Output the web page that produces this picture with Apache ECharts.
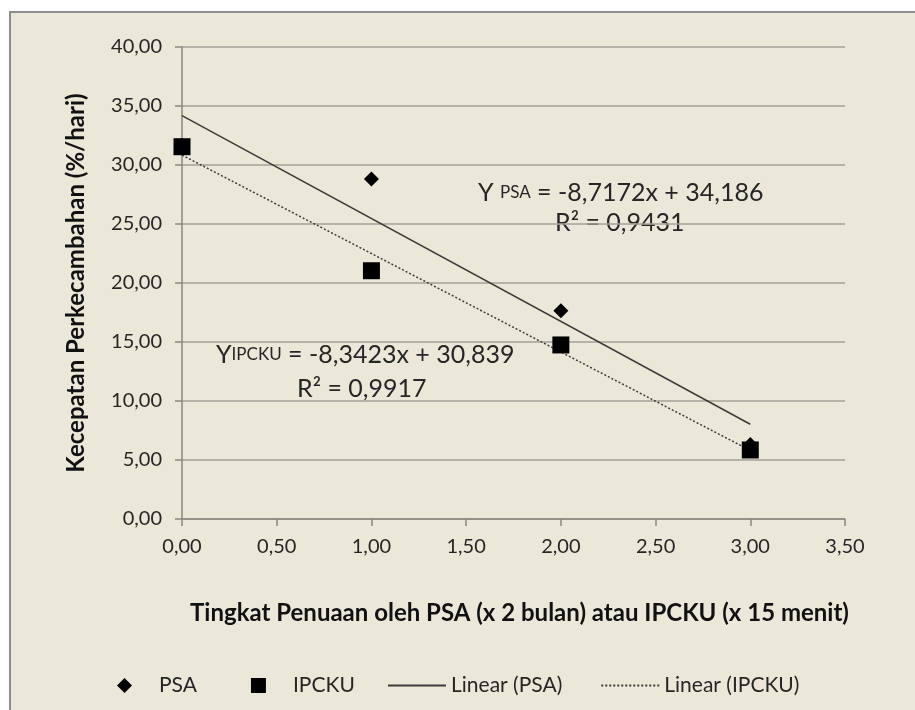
<!DOCTYPE html>
<html>
<head>
<meta charset="utf-8">
<script src="https://cdn.jsdelivr.net/npm/echarts@6/dist/echarts.min.js"></script>
<style>
  html, body { margin: 0; padding: 0; background: #ffffff; }
  .frame {
    position: absolute;
    left: 9px;
    top: 11px;
    width: 910px;
    height: 705px;
    background: #ece8d9;
    border-left: 2px solid #8e8e8e;
    border-top: 2px solid #8e8e8e;
  }
  #chart {
    position: absolute;
    left: 0;
    top: 0;
    width: 915px;
    height: 710px;
  }
</style>
</head>
<body>
<div class="frame"></div>
<div id="chart"></div>
<script>
// tingkat penuaan (x)
var xLevels = [0, 1, 2, 3];
// kecepatan perkecambahan (%/hari)
var psaValues = [31.66, 28.81, 17.65, 6.32];
var ipckuValues = [31.55, 21.04, 14.75, 5.85];
// trend line endpoints
var trendX = [0, 3];
var trendPsa = [34.19, 8.03];
var trendIpcku = [30.84, 5.81];

var xTicks = { min: 0, max: 3.5, interval: 0.5 };
var yTicks = { min: 0, max: 40, interval: 5 };

function pairs(xs, ys) {
  return xs.map(function (x, i) { return [x, ys[i]]; });
}
function comma(v) {
  return v.toFixed(2).replace(".", ",");
}

var font = "Lato";
var ink = "#262626";

var chart = echarts.init(document.getElementById("chart"));
var option = {
  backgroundColor: "transparent",
  textStyle: { fontFamily: font },
  animation: false,
  grid: { left: 182, right: 70, top: 47, bottom: 191 },
  xAxis: {
    type: "value",
    min: xTicks.min,
    max: xTicks.max,
    interval: xTicks.interval,
    name: "Tingkat Penuaan oleh PSA (x 2 bulan) atau IPCKU (x 15 menit)",
    nameLocation: "middle",
    nameGap: 82,
    nameTextStyle: { color: "#111", fontSize: 24, fontWeight: "bold", fontFamily: font, padding: [0, 0, 0, 12] },
    axisLine: { lineStyle: { color: "#8a877f", width: 1.5 } },
    axisTick: { show: true, length: 7, lineStyle: { color: "#8a877f", width: 1.5 } },
    axisLabel: { color: ink, fontSize: 20, margin: 18, formatter: comma },
    splitLine: { show: false }
  },
  yAxis: {
    type: "value",
    min: yTicks.min,
    max: yTicks.max,
    interval: yTicks.interval,
    name: "Kecepatan Perkecambahan (%/hari)",
    nameLocation: "middle",
    nameGap: 94,
    nameTextStyle: { color: "#111", fontSize: 24, fontWeight: "bold", fontFamily: font },
    axisLine: { show: true, lineStyle: { color: "#8a877f", width: 1.5 } },
    axisTick: { show: true, length: 7, lineStyle: { color: "#8a877f", width: 1.5 } },
    axisLabel: { color: ink, fontSize: 20, margin: 20, formatter: comma },
    splitLine: { show: true, lineStyle: { color: "#a3a096", width: 1.5 } }
  },
  legend: [
    {
      left: 117,
      top: 675,
      padding: 0,
      itemWidth: 15,
      itemHeight: 15,
      itemGap: 54,
      data: [
        { name: "PSA", icon: "diamond" },
        { name: "IPCKU", icon: "rect" }
      ],
      itemStyle: { opacity: 1 },
      textStyle: { color: ink, fontSize: 21, fontFamily: font, padding: [0, 0, 0, 22] }
    },
    {
      left: 387,
      top: 675,
      padding: 0,
      itemWidth: 58,
      itemHeight: 1,
      itemGap: 38,
      data: ["Linear (PSA)", "Linear (IPCKU)"],
      textStyle: { color: ink, fontSize: 21, fontFamily: font }
    }
  ],
  graphic: [
    {
      type: "text",
      left: 478,
      top: 180,
      style: {
        text: "{b|Y }{s|PSA}{b| = -8,7172x + 34,186}",
        fill: ink,
        rich: {
          b: { fontSize: 25, fontFamily: font, fill: ink },
          s: { fontSize: 17, fontFamily: font, fill: ink }
        }
      }
    },
    {
      type: "text",
      left: 555,
      top: 210,
      style: { text: "R² = 0,9431", fontSize: 25, fontFamily: font, fill: ink }
    },
    {
      type: "text",
      left: 216,
      top: 342,
      style: {
        text: "{b|Y}{s|IPCKU}{b| = -8,3423x + 30,839}",
        fill: ink,
        rich: {
          b: { fontSize: 25, fontFamily: font, fill: ink },
          s: { fontSize: 17, fontFamily: font, fill: ink }
        }
      }
    },
    {
      type: "text",
      left: 297,
      top: 376,
      style: { text: "R² = 0,9917", fontSize: 25, fontFamily: font, fill: ink }
    }
  ],
  series: [
    {
      name: "PSA",
      type: "scatter",
      symbol: "diamond",
      symbolSize: 15,
      itemStyle: { color: "#000", opacity: 1 },
      data: pairs(xLevels, psaValues),
      z: 3
    },
    {
      name: "IPCKU",
      type: "scatter",
      symbol: "rect",
      symbolSize: 17,
      itemStyle: { color: "#000", opacity: 1 },
      data: pairs(xLevels, ipckuValues),
      z: 4
    },
    {
      name: "Linear (PSA)",
      type: "line",
      symbol: "none",
      lineStyle: { color: "#3a3a3a", width: 1.5, type: "solid" },
      itemStyle: { color: "#3a3a3a" },
      data: pairs(trendX, trendPsa),
      z: 2
    },
    {
      name: "Linear (IPCKU)",
      type: "line",
      symbol: "none",
      lineStyle: { color: "#3c3c3c", width: 1.5, type: [2, 2] },
      itemStyle: { color: "#3c3c3c" },
      data: pairs(trendX, trendIpcku),
      z: 2
    }
  ]
};
chart.setOption(option);
</script>
</body>
</html>
